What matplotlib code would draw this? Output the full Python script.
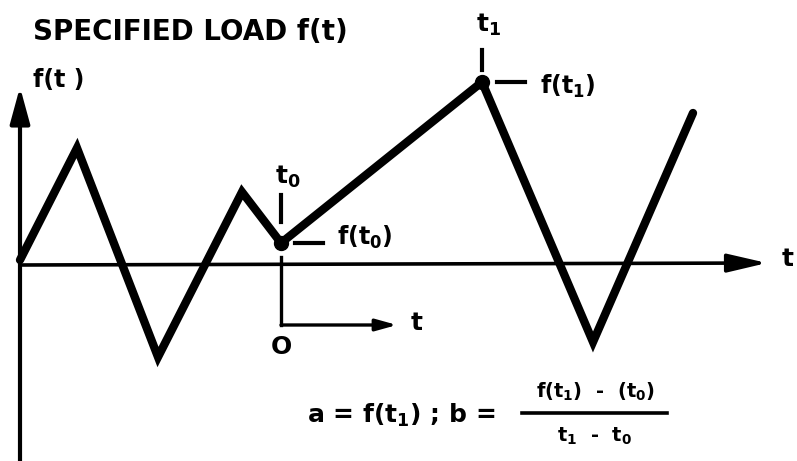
import matplotlib.pyplot as plt
import numpy as np

plt.rcParams['font.family'] = 'DejaVu Sans'
plt.rcParams['font.weight'] = 'bold'
plt.rcParams['mathtext.fontset'] = 'dejavusans'
plt.rcParams['mathtext.default'] = 'bf'

# load history, vertices of the saw-tooth (time, load)
load_t = [0, 57, 138, 222, 261, 462, 573, 673]
load_f = [5, 117, -92, 73, 22, 183, -77, 152]
i0 = 4   # vertex at t0
i1 = 5   # vertex at t1

title = "SPECIFIED LOAD f(t)"
ylabel = "f(t )"

fig = plt.figure(figsize=(7.97, 4.61), dpi=100)
ax = fig.add_axes([0, 0, 1, 1])
ax.set_xlim(-20, 777)
ax.set_ylim(-196, 265)
ax.axis('off')

# main axes with arrow heads
ax.annotate('', xy=(0, 178), xytext=(0, -196),
            arrowprops=dict(arrowstyle='-|>,head_length=1.1,head_width=0.3',
                            lw=3, color='k', mutation_scale=20, shrinkA=0, shrinkB=0))
ax.annotate('', xy=(747, 2), xytext=(0, 0),
            arrowprops=dict(arrowstyle='-|>,head_length=1.2,head_width=0.28',
                            lw=2.6, color='k', mutation_scale=20, shrinkA=0, shrinkB=0))

# the load curve
ax.plot(load_t, load_f, color='k', lw=6, solid_joinstyle='miter', solid_capstyle='round')

ta, fa = load_t[i0], load_f[i0]
tb, fb = load_t[i1], load_f[i1]
ax.plot([ta, tb], [fa, fb], 'o', color='k', ms=10)

# local time axis starting at t0
ax.plot([ta, ta], [fa - 14, -60], color='k', lw=2.4)
ax.annotate('', xy=(ta + 116, -60), xytext=(ta, -60),
            arrowprops=dict(arrowstyle='-|>,head_length=0.9,head_width=0.25',
                            lw=2.4, color='k', mutation_scale=14, shrinkA=0, shrinkB=0))

# tick marks for t0, t1 and their load values
ax.plot([ta, ta], [fa + 21, fa + 48], color='k', lw=3)
ax.plot([tb, tb], [fb + 12, fb + 32], color='k', lw=3)
ax.plot([ta + 14, ta + 42], [fa, fa], color='k', lw=3)
ax.plot([tb + 15, tb + 43], [fb, fb], color='k', lw=3)

# labels
ax.text(13, 233, title, fontsize=20, ha='left', va='center')
ax.text(13, 185, ylabel, fontsize=17, ha='left', va='center')
ax.text(ta - 6, 88, r"t$_0$", fontsize=18, ha='left', va='center')
ax.text(tb - 6, 240, r"t$_1$", fontsize=18, ha='left', va='center')
ax.text(ta + 56, fa + 6, r"f(t$_0$)", fontsize=17, ha='left', va='center')
ax.text(tb + 58, fb - 4, r"f(t$_1$)", fontsize=17, ha='left', va='center')
ax.text(ta, -82, "O", fontsize=18, ha='center', va='center')
ax.text(ta + 136, -58, "t", fontsize=18, ha='center', va='center')
ax.text(762, 6, "t", fontsize=18, ha='left', va='center')

# a and b definitions
ax.text(287, -150, r"a = f(t$_1$) ; b =", fontsize=18, ha='left', va='center')
ax.plot([502, 647], [-148, -148], color='k', lw=2.6)
ax.text(575, -127, r"f(t$_1$)  -  (t$_0$)", fontsize=14, ha='center', va='center')
ax.text(575, -171, r"t$_1$  -  t$_0$", fontsize=14, ha='center', va='center')

fig.savefig('out.png', dpi=100)
